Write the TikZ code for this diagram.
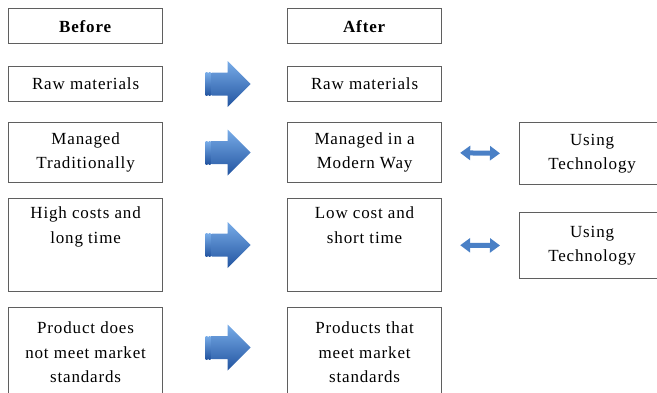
\documentclass[tikz,border=0pt]{standalone}
\usepackage{fontspec}
\setmainfont{Liberation Serif}[LetterSpace=5]
\usetikzlibrary{arrows.meta, positioning, calc}
\definecolor{boxline}{RGB}{95,95,95}
\definecolor{arrowtop}{RGB}{120,172,232}
\definecolor{arrowmid}{RGB}{58,120,202}
\definecolor{arrowbot}{RGB}{34,84,160}
\definecolor{twowayblue}{RGB}{74,128,198}
\newcommand{\boxfont}{\fontsize{17}{24.5}\selectfont}

\tikzset{
  stage/.style={draw=boxline, line width=1.2pt, rectangle, anchor=north west,
                minimum width=154pt, inner sep=0pt, align=center, font=\boxfont},
  tech/.style={stage, minimum width=145pt},
  toptext/.style={inner sep=0pt, align=center, font=\boxfont},
  twoway/.style={draw=twowayblue, line width=5pt,
                 {Triangle[width=14pt,length=10pt]}-{Triangle[width=14pt,length=10pt]},
                 shorten <=18pt, shorten >=19pt},
  pics/blockarrow/.style={code={
    \shade[top color=arrowtop, middle color=arrowmid, bottom color=arrowbot]
      (-13.5,11.5) -- (2.5,11.5) -- (2.5,23) -- (25.5,0) -- (2.5,-23)
      -- (2.5,-11.5) -- (-13.5,-11.5) -- cycle;
    \shade[top color=arrowtop, middle color=arrowmid, bottom color=arrowbot]
      (-19.5,-11.5) rectangle (-17.5,11.5);
    \shade[top color=arrowtop, middle color=arrowmid, bottom color=arrowbot]
      (-16.5,-11.5) rectangle (-14.5,11.5);
  }}
}

\begin{document}
\begin{tikzpicture}[x=1pt, y=1pt]
  \useasboundingbox (0,0) rectangle (657,-393);
  % headings
  \node[stage, minimum height=35pt] (before) at (8,-8) {\textbf{Before}};
  \node[stage, minimum height=35pt] (after) at (287,-8) {\textbf{After}};
  % row 1
  \node[stage, minimum height=35pt] (rawB) at (8,-66) {Raw materials};
  \node[stage, minimum height=35pt] (rawA) at (287,-66) {Raw materials};
  % row 2
  \node[stage, minimum height=60pt] (mgdB) at (8,-122) {Managed\\Traditionally};
  \node[stage, minimum height=60pt] (mgdA) at (287,-122) {Managed in a\\Modern Way};
  \node[tech, minimum height=62pt] (tech1) at (519,-122) {Using\\Technology};
  % row 3 (text at the top of the box)
  \node[stage, minimum height=93pt] (costB) at (8,-198) {};
  \node[toptext, below=9pt of costB.north] (costBtext) {High costs and\\long time};
  \node[stage, minimum height=93pt] (costA) at (287,-198) {};
  \node[toptext, below=9pt of costA.north] (costAtext) {Low cost and\\short time};
  \node[tech, minimum height=66pt] (tech2) at (519,-212) {Using\\Technology};
  % row 4
  \node[stage, minimum height=90pt] (prodB) at (8,-307) {Product does\\not meet market\\standards};
  \node[stage, minimum height=90pt] (prodA) at (287,-307) {Products that\\meet market\\standards};
  % block arrows
  \pic at ($(rawB.east)!.5!(rawA.west)$) {blockarrow};
  \pic at ($(mgdB.east)!.5!(mgdA.west)$) {blockarrow};
  \pic at ($(costB.east)!.5!(costA.west)$) {blockarrow};
  \pic at ($(prodB.east)!.5!(prodA.west)+(0,5)$) {blockarrow};
  % double arrows
  \draw[twoway] (mgdA.east) -- (tech1.west);
  \draw[twoway] (costA.east) -- (tech2.west);
\end{tikzpicture}
\end{document}
